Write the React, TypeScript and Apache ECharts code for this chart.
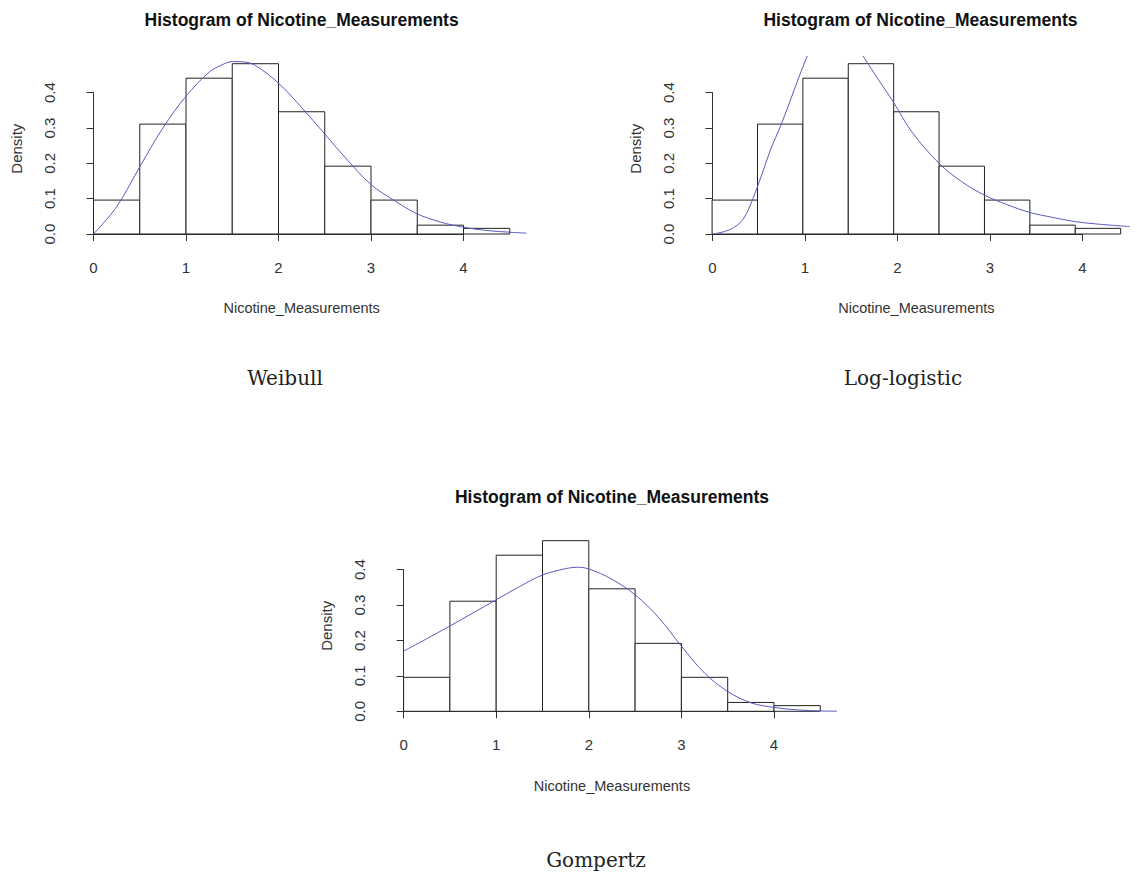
import React, { useEffect, useRef } from 'react';
import * as echarts from 'echarts';

// ---- data ----
const BIN_EDGES = [0, 0.5, 1, 1.5, 2, 2.5, 3, 3.5, 4, 4.5];
const DENSITY = [0.096, 0.311, 0.441, 0.482, 0.346, 0.192, 0.096, 0.025, 0.016];

const WEIBULL_X = [0, 0.25, 0.5, 0.75, 1, 1.25, 1.375, 1.5, 1.625, 1.75, 2, 2.25, 2.5, 2.75, 3, 3.25, 3.5, 3.75, 4, 4.25, 4.5, 4.68];
const WEIBULL_Y = [0, 0.077, 0.19, 0.3, 0.39, 0.458, 0.477, 0.488, 0.487, 0.477, 0.427, 0.358, 0.283, 0.208, 0.14, 0.095, 0.057, 0.034, 0.019, 0.01, 0.005, 0.0025];

const GOMPERTZ_X = [0, 0.25, 0.5, 0.75, 1, 1.25, 1.5, 1.75, 1.875, 2, 2.25, 2.5, 2.75, 3, 3.25, 3.5, 3.75, 4, 4.25, 4.5, 4.68];
const GOMPERTZ_Y = [0.17, 0.205, 0.241, 0.278, 0.315, 0.352, 0.385, 0.403, 0.407, 0.402, 0.373, 0.329, 0.266, 0.184, 0.108, 0.056, 0.024, 0.011, 0.004, 0.001, 0.0003];

const LOGLOG_LEFT_X = [0.05, 0.15, 0.25, 0.35, 0.45, 0.55, 0.65, 0.75, 0.85, 0.95, 1.05];
const LOGLOG_LEFT_Y = [0.002, 0.008, 0.02, 0.045, 0.1, 0.17, 0.243, 0.303, 0.37, 0.44, 0.505];
const LOGLOG_RIGHT_X = [1.66, 1.75, 1.85, 2, 2.2, 2.5, 2.75, 3, 3.25, 3.5, 3.75, 4, 4.25, 4.6];
const LOGLOG_RIGHT_Y = [0.505, 0.469, 0.43, 0.372, 0.289, 0.2, 0.148, 0.11, 0.083, 0.061, 0.047, 0.035, 0.028, 0.021];

const TITLE = 'Histogram of Nicotine_Measurements';
const X_NAME = 'Nicotine_Measurements';
const Y_NAME = 'Density';
const CAPTIONS = ['Weibull', 'Log-logistic', 'Gompertz'];

// plot-region extents (R style: 4% padding)
const X_MIN = -0.18;
const X_MAX = 4.68;
const Y_MIN = -0.0193;
const Y_MAX = 0.5023;
const AX_X_MIN = 0, AX_X_MAX = 4, AX_X_INT = 1;
const AX_Y_MIN = 0, AX_Y_MAX = 0.4, AX_Y_INT = 0.1;

// ---- layout ----
const W = 1137, H = 872;
const PANELS = [
  { x0: 93.5, ux: 92.5, y0: 234, uy: 353.3, titleY: 19.5, capX: 285, capY: 378 },
  { x0: 712.4, ux: 92.5, y0: 234, uy: 353.3, titleY: 19.5, capX: 903, capY: 378 },
  { x0: 403.6, ux: 92.6, y0: 711.3, uy: 354, titleY: 497, capX: 596, capY: 860 },
];

const SANS = "'Liberation Sans', Arial, sans-serif";
const SERIF = "'DejaVu Serif', serif";
const CURVE_COLOR = '#5a5ac4';
const AXIS_COLOR = '#333';

function zip(xs: number[], ys: number[]) {
  return xs.map((x, i) => [x, ys[i]]);
}

function buildOption() {
  const grid: any[] = [];
  const xAxis: any[] = [];
  const yAxis: any[] = [];
  const series: any[] = [];
  const graphic: any[] = [];
  const bins = DENSITY.map((d, i) => [BIN_EDGES[i], BIN_EDGES[i + 1], d]);
  const curves = [
    [zip(WEIBULL_X, WEIBULL_Y)],
    [zip(LOGLOG_LEFT_X, LOGLOG_LEFT_Y), zip(LOGLOG_RIGHT_X, LOGLOG_RIGHT_Y)],
    [zip(GOMPERTZ_X, GOMPERTZ_Y)],
  ];

  PANELS.forEach((p, i) => {
    const a = 2 * i, b = 2 * i + 1;
    grid.push({
      left: p.x0 + X_MIN * p.ux,
      width: (X_MAX - X_MIN) * p.ux,
      top: p.y0 - Y_MAX * p.uy,
      height: (Y_MAX - Y_MIN) * p.uy,
      containLabel: false,
    });
    grid.push({
      left: p.x0 + AX_X_MIN * p.ux,
      width: (AX_X_MAX - AX_X_MIN) * p.ux,
      top: p.y0 - AX_Y_MAX * p.uy,
      height: (AX_Y_MAX - AX_Y_MIN) * p.uy,
      containLabel: false,
    });
    xAxis.push({
      gridIndex: a, type: 'value', min: X_MIN, max: X_MAX,
      axisLine: { show: false }, axisTick: { show: false }, axisLabel: { show: false }, splitLine: { show: false },
      name: X_NAME, nameLocation: 'middle', nameGap: 60,
      nameTextStyle: { fontSize: 14.5, color: AXIS_COLOR, fontFamily: SANS },
    });
    yAxis.push({
      gridIndex: a, type: 'value', min: Y_MIN, max: Y_MAX,
      axisLine: { show: false }, axisTick: { show: false }, axisLabel: { show: false }, splitLine: { show: false },
      name: Y_NAME, nameLocation: 'middle', nameGap: 53,
      nameTextStyle: { fontSize: 15, color: AXIS_COLOR, fontFamily: SANS },
    });
    xAxis.push({
      gridIndex: b, type: 'value', min: AX_X_MIN, max: AX_X_MAX, interval: AX_X_INT,
      offset: (0 - Y_MIN) * p.uy,
      axisLine: { show: true, lineStyle: { color: AXIS_COLOR, width: 1 } },
      axisTick: { show: true, length: 7, lineStyle: { color: AXIS_COLOR, width: 1 } },
      axisLabel: { fontSize: 15, color: AXIS_COLOR, fontFamily: SANS, margin: 19 },
      splitLine: { show: false },
    });
    yAxis.push({
      gridIndex: b, type: 'value', min: AX_Y_MIN, max: AX_Y_MAX, interval: AX_Y_INT,
      offset: (0 - X_MIN) * p.ux,
      axisLine: { show: true, lineStyle: { color: AXIS_COLOR, width: 1 } },
      axisTick: { show: true, length: 7, lineStyle: { color: AXIS_COLOR, width: 1 } },
      axisLabel: {
        fontSize: 15, color: AXIS_COLOR, fontFamily: SANS, margin: 20, rotate: 90,
        formatter: (v: number) => v.toFixed(1),
      },
      splitLine: { show: false },
    });

    series.push({
      type: 'custom', xAxisIndex: a, yAxisIndex: a, data: bins, z: 2,
      renderItem: (params: any, api: any) => {
        const p0 = api.coord([api.value(0), api.value(2)]);
        const p1 = api.coord([api.value(1), 0]);
        return {
          type: 'rect',
          shape: { x: p0[0], y: p0[1], width: p1[0] - p0[0], height: p1[1] - p0[1] },
          style: { fill: '#fff', stroke: '#222', lineWidth: 1 },
        };
      },
    });
    curves[i].forEach((data) => {
      series.push({
        type: 'line', xAxisIndex: a, yAxisIndex: a, data, smooth: 0.35,
        symbol: 'none', clip: true, z: 3,
        lineStyle: { color: CURVE_COLOR, width: 1 },
      });
    });

    const cx = p.x0 + ((X_MIN + X_MAX) / 2) * p.ux;
    graphic.push({
      type: 'text', x: cx, y: p.titleY,
      style: {
        text: TITLE, textAlign: 'center', textVerticalAlign: 'middle',
        font: `bold 17.5px ${SANS}`, fill: '#111',
      },
    });
    graphic.push({
      type: 'text', x: p.capX, y: p.capY,
      style: {
        text: CAPTIONS[i], textAlign: 'center', textVerticalAlign: 'middle',
        font: `20px ${SERIF}`, fill: '#222',
      },
    });
  });

  return {
    animation: false,
    backgroundColor: '#fff',
    grid, xAxis, yAxis, series, graphic,
  };
}

export default function App() {
  const ref = useRef<HTMLDivElement>(null);
  useEffect(() => {
    if (!ref.current) return;
    const chart = echarts.init(ref.current, null, { renderer: 'svg', width: W, height: H });
    chart.setOption(buildOption() as any);
    return () => chart.dispose();
  }, []);
  return (
    <div
      ref={ref}
      style={{ position: 'absolute', left: 0, top: 0, width: W, height: H, overflow: 'hidden', background: '#fff' }}
    />
  );
}
